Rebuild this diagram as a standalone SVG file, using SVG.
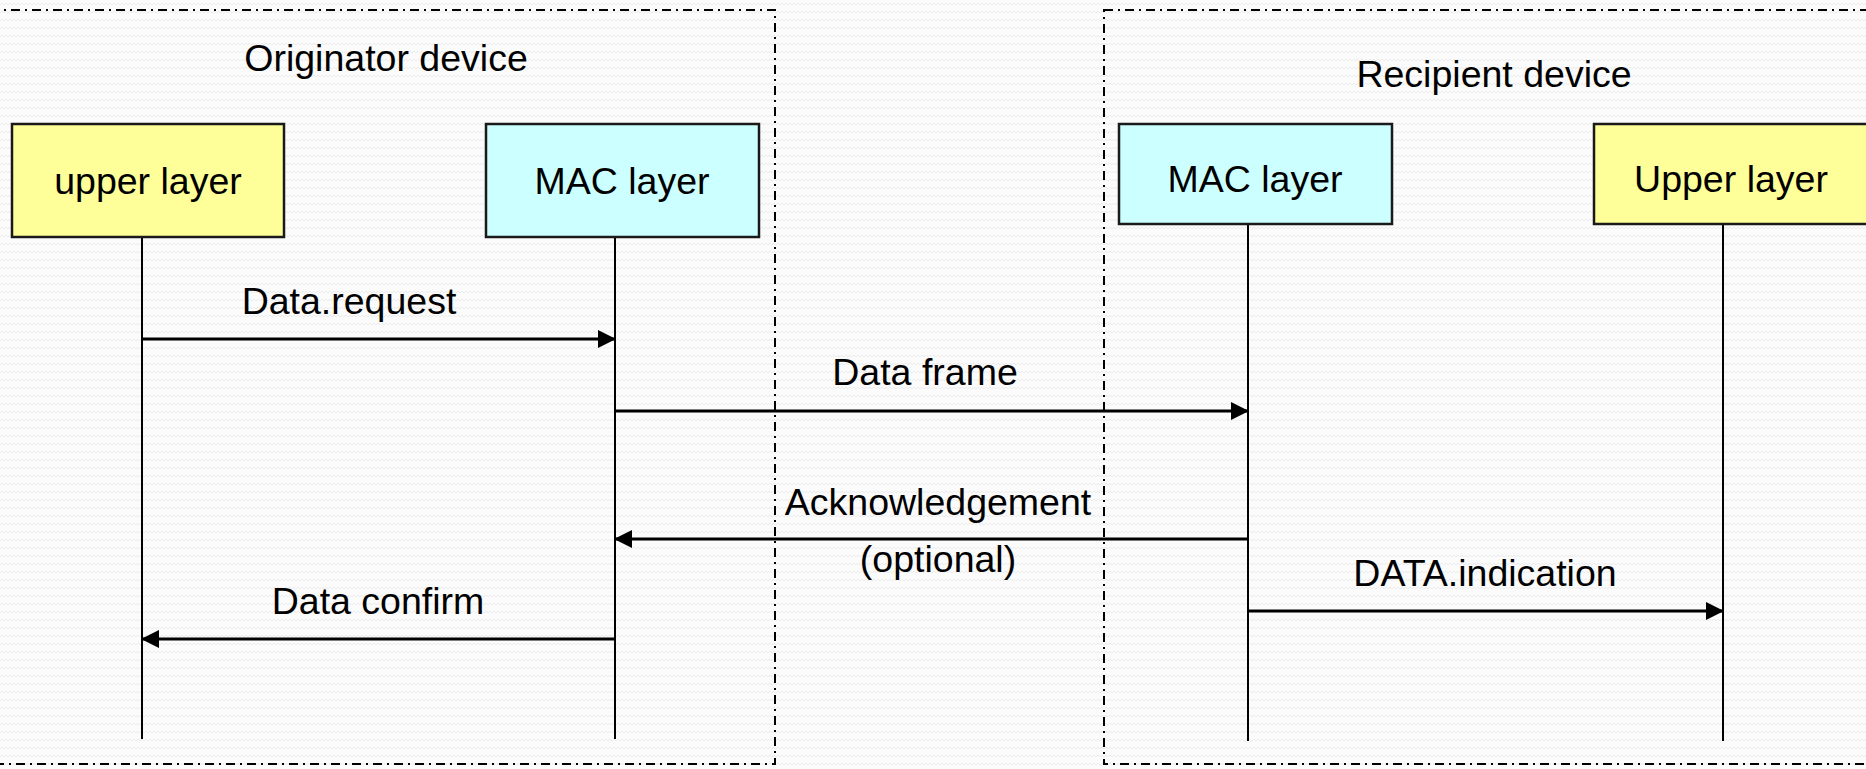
<svg xmlns="http://www.w3.org/2000/svg" width="1866" height="769" viewBox="0 0 1866 769">
<defs>
<pattern id="bg" width="8" height="8" patternUnits="userSpaceOnUse">
<rect width="8" height="8" fill="#fbfbfb"/>
<path d="M0 5 L2 3 L4 5 L6 3 L8 5" fill="none" stroke="#ececec" stroke-width="1"/>
</pattern>
<marker id="ah" viewBox="0 0 18 18" refX="17" refY="9" markerWidth="18" markerHeight="18" markerUnits="userSpaceOnUse" orient="auto">
<path d="M0 0 L18 9 L0 18 z" fill="#000"/>
</marker>
<style>
.t{font-family:"Liberation Sans",Arial,sans-serif;font-size:37.5px;fill:#000;text-anchor:middle}
.box{stroke:#1a1a1a;stroke-width:2.5}
.y{fill:#ffff99}
.c{fill:#ccffff}
.life{stroke:#000;stroke-width:2;fill:none}
.msg{stroke:#000;stroke-width:3;fill:none;marker-end:url(#ah)}
.dev{fill:none;stroke:#000;stroke-width:2;stroke-dasharray:9 5 2 5}
</style>
</defs>
<rect width="1866" height="769" fill="url(#bg)"/>
<g id="originator-device">
<rect class="dev" x="-10" y="10" width="785" height="754"/>
<text class="t" x="386" y="71">Originator device</text>
</g>
<g id="recipient-device">
<rect class="dev" x="1104" y="10" width="780" height="754"/>
<text class="t" x="1494" y="87">Recipient device</text>
</g>
<g id="upper-layer-left">
<rect class="box y" x="12" y="124" width="272" height="113"/>
<text class="t" x="148" y="194">upper layer</text>
<line class="life" x1="142" y1="238" x2="142" y2="739"/>
</g>
<g id="mac-layer-left">
<rect class="box c" x="486" y="124" width="273" height="113"/>
<text class="t" x="622" y="194">MAC layer</text>
<line class="life" x1="615" y1="238" x2="615" y2="739"/>
</g>
<g id="mac-layer-right">
<rect class="box c" x="1119" y="124" width="273" height="100"/>
<text class="t" x="1255" y="192">MAC layer</text>
<line class="life" x1="1248" y1="225" x2="1248" y2="741"/>
</g>
<g id="upper-layer-right">
<rect class="box y" x="1594" y="124" width="290" height="100"/>
<text class="t" x="1731" y="192">Upper layer</text>
<line class="life" x1="1723" y1="225" x2="1723" y2="741"/>
</g>
<g id="connectors">
<line class="msg" x1="142" y1="339" x2="615" y2="339"/>
<text class="t" x="349" y="314">Data.request</text>
<line class="msg" x1="615" y1="411" x2="1248" y2="411"/>
<text class="t" x="925" y="385">Data frame</text>
<line class="msg" x1="1248" y1="539" x2="615" y2="539"/>
<text class="t" x="938" y="515">Acknowledgement</text>
<text class="t" x="938" y="572">(optional)</text>
<line class="msg" x1="1248" y1="611" x2="1723" y2="611"/>
<text class="t" x="1485" y="586">DATA.indication</text>
<line class="msg" x1="615" y1="639" x2="142" y2="639"/>
<text class="t" x="378" y="614">Data confirm</text>
</g>
</svg>
